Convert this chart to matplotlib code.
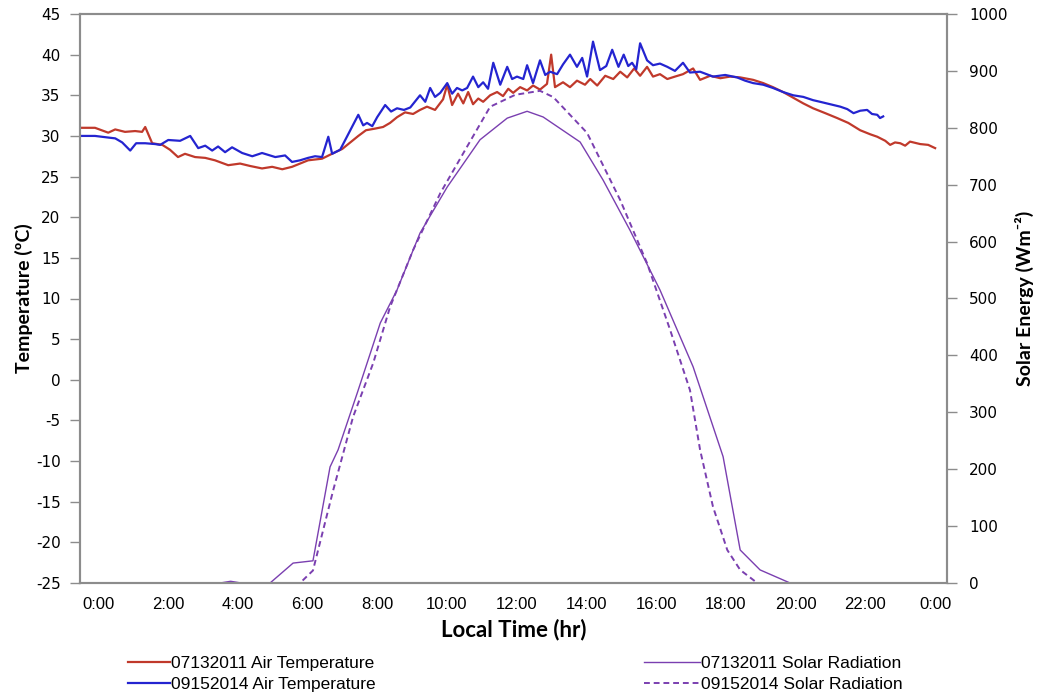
import matplotlib
matplotlib.use("Agg")
import matplotlib.pyplot as plt

plt.rcParams["axes.unicode_minus"] = False

# hours of day (x)
red_hr = [-0.52, -0.09, 0.29, 0.49, 0.77, 1.06, 1.26, 1.35, 1.55, 1.84, 2.06, 2.29, 2.49, 2.78,
          3.07, 3.35, 3.73, 4.07, 4.36, 4.70, 4.99, 5.28, 5.56, 5.79, 6.02, 6.42, 6.80, 7.00,
          7.23, 7.46, 7.68, 7.94, 8.17, 8.37, 8.57, 8.80, 9.03, 9.23, 9.43, 9.66, 9.89, 10.01,
          10.15, 10.32, 10.47, 10.61, 10.75, 10.90, 11.04, 11.24, 11.44, 11.61, 11.76, 11.90,
          12.10, 12.30, 12.47, 12.67, 12.87, 12.99, 13.10, 13.33, 13.53, 13.73, 13.96, 14.11,
          14.31, 14.54, 14.77, 14.97, 15.17, 15.37, 15.54, 15.74, 15.91, 16.11, 16.32, 16.54,
          16.77, 17.06, 17.26, 17.55, 17.84, 18.12, 18.41, 18.78, 19.07, 19.35, 19.64, 19.93,
          20.22, 20.50, 20.85, 21.19, 21.51, 21.85, 22.14, 22.34, 22.57, 22.71, 22.85, 23.00,
          23.14, 23.28, 23.57, 23.80, 24.00]
red_temp = [31.0, 31.0, 30.4, 30.8, 30.5, 30.6, 30.5, 31.1, 29.1, 28.9, 28.3, 27.4, 27.8, 27.4,
            27.3, 27.0, 26.4, 26.6, 26.3, 26.0, 26.2, 25.9, 26.2, 26.6, 27.0, 27.2, 28.0, 28.4,
            29.2, 30.0, 30.7, 30.9, 31.1, 31.6, 32.3, 32.9, 32.7, 33.2, 33.6, 33.2, 34.5, 36.3,
            33.8, 35.2, 34.0, 35.4, 33.9, 34.6, 34.2, 35.0, 35.4, 34.9, 35.8, 35.3,
            36.0, 35.6, 36.2, 35.7, 36.4, 40.0, 36.0, 36.6, 36.0, 36.8, 36.3, 37.0,
            36.2, 37.4, 37.0, 37.9, 37.2, 38.3, 37.4, 38.5, 37.3, 37.6, 37.0, 37.3,
            37.6, 38.3, 36.9, 37.4, 37.1, 37.3, 37.2, 36.9, 36.5, 36.0, 35.4, 34.7,
            34.0, 33.4, 32.8, 32.2, 31.6, 30.7, 30.2, 29.9, 29.4, 28.9, 29.2, 29.1,
            28.8, 29.3, 29.0, 28.9, 28.5]

blue_hr = [-0.52, -0.09, 0.29, 0.49, 0.69, 0.92, 1.09, 1.35, 1.63, 1.78, 2.01, 2.35, 2.64, 2.87,
           3.07, 3.27, 3.44, 3.64, 3.84, 4.13, 4.42, 4.70, 5.08, 5.36, 5.56, 5.79, 6.02, 6.22,
           6.42, 6.60, 6.71, 6.94, 7.23, 7.46, 7.60, 7.71, 7.86, 8.00, 8.23, 8.40, 8.57, 8.77,
           8.95, 9.23, 9.38, 9.52, 9.66, 9.81, 10.01, 10.15, 10.29, 10.44, 10.58, 10.75, 10.90,
           11.04, 11.18, 11.33, 11.53, 11.73, 11.87, 12.01, 12.19, 12.30, 12.47, 12.67, 12.82,
           12.96, 13.16, 13.33, 13.53, 13.73, 13.88, 14.02, 14.19, 14.39, 14.57, 14.74, 14.92,
           15.07, 15.20, 15.31, 15.43, 15.54, 15.74, 15.91, 16.11, 16.32, 16.54, 16.77, 16.97,
           17.26, 17.63, 17.98, 18.32, 18.55, 18.78, 19.07, 19.35, 19.64, 19.93, 20.22, 20.50,
           20.70, 20.99, 21.28, 21.48, 21.66, 21.85, 22.05, 22.19, 22.34, 22.42, 22.51]
blue_temp = [30.0, 30.0, 29.8, 29.7, 29.2, 28.2, 29.1, 29.1, 29.0, 28.9, 29.5, 29.4, 30.0, 28.5,
             28.8, 28.2, 28.7, 28.0, 28.6, 27.9, 27.5, 27.9, 27.4, 27.6, 26.8, 27.0, 27.3, 27.5,
             27.4, 29.9, 27.8, 28.3, 30.7, 32.6, 31.3, 31.6, 31.2, 32.3, 33.8, 33.0, 33.4, 33.2,
             33.5, 35.0, 34.2, 35.9, 34.8, 35.3, 36.5, 35.2, 35.9, 35.6, 35.9, 37.3, 36.0,
             36.6, 35.8, 39.0, 36.3, 38.5, 37.0, 37.3, 37.0, 38.7, 36.5, 39.3, 37.5,
             37.9, 37.6, 38.8, 40.0, 38.5, 39.6, 37.3, 41.6, 38.1, 38.6, 40.6, 38.5,
             40.0, 38.6, 39.0, 38.2, 41.4, 39.3, 38.7, 38.9, 38.5, 38.0, 39.0, 37.8,
             37.9, 37.3, 37.5, 37.2, 36.8, 36.5, 36.3, 35.9, 35.4, 35.0, 34.8, 34.4,
             34.2, 33.9, 33.6, 33.3, 32.8, 33.1, 33.2, 32.7, 32.6, 32.2, 32.4]

sol1_hr = [-0.52, 3.5, 3.8, 4.1, 4.93, 5.59, 6.16, 6.65, 6.88, 7.43, 8.09, 8.57, 9.23, 10.01,
           10.95, 11.73, 12.30, 12.76, 13.82, 14.48, 15.25, 16.11, 17.06, 17.92, 18.41, 18.98,
           19.84, 24.35]
sol1_val = [0, 0, 3, 0, 0, 35, 39, 204, 234, 334, 457, 515, 615, 696,
            779, 817, 829, 819, 775, 708, 620, 515, 380, 222, 58, 23,
            0, 0]

sol2_hr = [-0.52, 5.79, 6.16, 6.74, 7.31, 7.89, 8.37, 9.03, 9.81, 10.58, 11.24, 11.96, 12.67,
           13.05, 14.02, 14.97, 15.74, 16.40, 16.97, 17.26, 17.63, 18.04, 18.41, 18.90, 24.35]
sol2_val = [0, 0, 22, 163, 292, 387, 485, 585, 685, 767, 837, 858, 865,
            854, 791, 673, 562, 445, 339, 234, 134, 58, 23, 0, 0]

xticks = list(range(0, 25, 2))
xticklabels = ["0:00", "2:00", "4:00", "6:00", "8:00", "10:00", "12:00", "14:00", "16:00",
               "18:00", "20:00", "22:00", "0:00"]

body = ["Liberation Sans", "DejaVu Sans"]
title = ["Lato", "DejaVu Sans"]
grey = "#8c8c8c"

fig = plt.figure(figsize=(10.37, 7.0), dpi=100)
ax = fig.add_axes([80 / 1037, 1 - 583 / 700, 867 / 1037, 569 / 700])
ax2 = ax.twinx()

l1, = ax.plot(red_hr, red_temp, color="#c0392b", lw=1.6, label="07132011 Air Temperature")
l2, = ax.plot(blue_hr, blue_temp, color="#2424d0", lw=1.6, label="09152014 Air Temperature")
l3, = ax2.plot(sol1_hr, sol1_val, color="#7a3fb0", lw=1.0, label="07132011 Solar Radiation")
l4, = ax2.plot(sol2_hr, sol2_val, color="#7a3fb0", lw=1.4, ls=(0, (3, 2)),
               label="09152014 Solar Radiation")

ax.set_xlim(-0.52, 24.34)
ax.set_ylim(-25, 45)
ax.set_yticks(range(-25, 46, 5))
ax2.set_ylim(0, 1000)
ax2.set_yticks(range(0, 1001, 100))
ax.set_xticks(xticks)
ax.set_xticklabels(xticklabels, family=body, fontsize=12)

for a in (ax, ax2):
    for s in a.spines.values():
        s.set_color(grey)
        s.set_linewidth(1.5)
ax.tick_params(axis="x", length=0, pad=10)
ax.tick_params(axis="y", length=7, width=1, color=grey, pad=7, labelsize=11)
ax2.tick_params(axis="y", length=7, width=1, color=grey, pad=9, labelsize=11)

ax.set_xlabel("Local Time (hr)", family=title, fontweight="bold", fontsize=16, labelpad=5)
ax.set_ylabel("Temperature (ºC)", family=title, fontweight="bold", fontsize=14, labelpad=2)
ax2.set_ylabel("Solar Energy (Wm⁻²)", family=title, fontweight="bold", fontsize=14, labelpad=5)

leg1 = fig.legend(handles=[l1, l2], loc="center left", bbox_to_anchor=(128 / 1037, 0.037),
                  frameon=False, prop={"family": body, "size": 12.5}, handlelength=2.4,
                  handletextpad=0.1, labelspacing=0.3, borderpad=0, borderaxespad=0)
leg2 = fig.legend(handles=[l3, l4], loc="center left", bbox_to_anchor=(644 / 1037, 0.037),
                  frameon=False, prop={"family": body, "size": 12.5}, handlelength=3.2,
                  handletextpad=0.1, labelspacing=0.3, borderpad=0, borderaxespad=0)

fig.savefig("out.png", dpi=100)
